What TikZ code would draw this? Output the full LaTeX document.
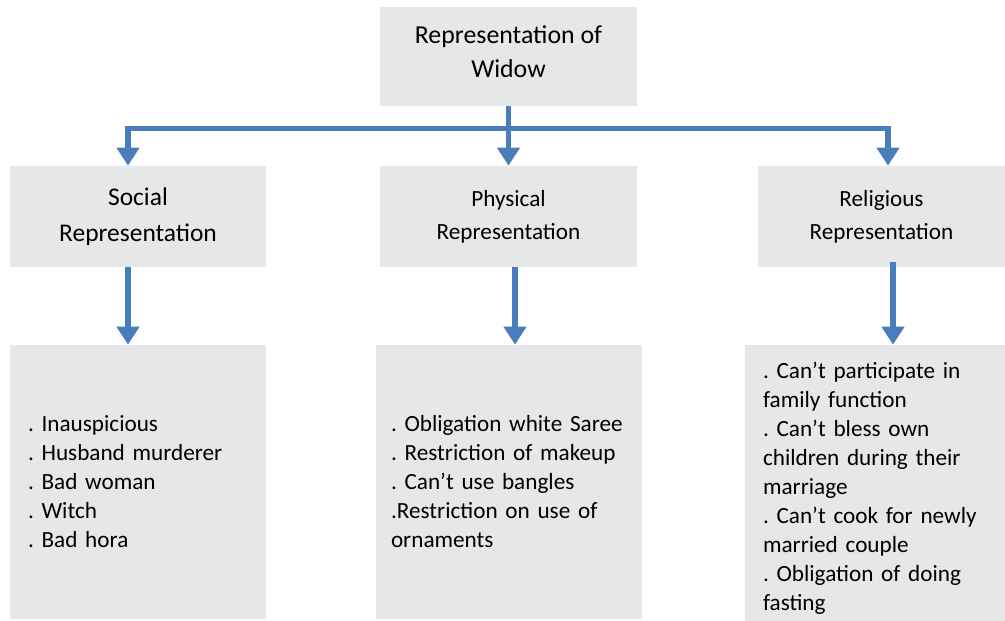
\documentclass[tikz,border=0pt]{standalone}
\usepackage{fontspec}
\setmainfont{Carlito}
\usetikzlibrary{arrows.meta}
\definecolor{boxgray}{RGB}{230,231,233}
\definecolor{linkblue}{RGB}{74,126,187}
\frenchspacing
\begin{document}
\begin{tikzpicture}[
    box/.style={fill=boxgray, draw=none, align=center, inner sep=0pt},
    listbox/.style={fill=boxgray, draw=none, align=left, inner xsep=0.36cm, inner ysep=0pt},
    link/.style={linkblue, line width=0.11cm, -{Triangle[width=0.44cm,length=0.36cm]}}
  ]
    \useasboundingbox (0,0) rectangle (20.1,-12.42);
    %Top
    \node[box, minimum width=5.14cm, minimum height=1.98cm,
          font=\fontsize{14.7}{19.4}\selectfont] (widow) at (10.17,-1.13) {Representation of\\Widow\rule[-0.2cm]{0pt}{0pt}};
    %Second row
    \node[box, minimum width=5.12cm, minimum height=2.02cm,
          font=\fontsize{14.5}{20.5}\selectfont] (social) at (2.76,-4.33) {Social\\Representation};
    \node[box, minimum width=5.14cm, minimum height=2.02cm,
          font=\fontsize{13.2}{18.8}\selectfont] (physical) at (10.17,-4.33) {Physical\\Representation};
    \node[box, minimum width=4.94cm, minimum height=2.02cm,
          font=\fontsize{13.2}{18.8}\selectfont] (religious) at (17.63,-4.33) {Religious\\Representation};
    %Lists
    \node[listbox, text width=4.4cm, minimum height=5.48cm,
          font=\fontsize{13.2}{16.5}\selectfont] (sociallist) at (2.76,-9.64)
          {. Inauspicious\\. Husband murderer\\. Bad woman\\. Witch\\. Bad hora};
    \node[listbox, inner xsep=0.3cm, text width=4.72cm, minimum height=5.48cm,
          font=\fontsize{13.2}{16.5}\selectfont] (physicallist) at (10.18,-9.64)
          {. Obligation white Saree\\. Restriction of makeup\\. Can’t use bangles\\.Restriction on use of\\ornaments};
    \node[listbox, text width=4.48cm, minimum height=5.52cm,
          font=\fontsize{13.2}{16.5}\selectfont] (religiouslist) at (17.5,-9.66)
          {\rule{0pt}{0.55cm}. Can’t participate in\\family function\\. Can’t bless own\\children during their\\marriage\\. Can’t cook for newly\\married couple\\. Obligation of doing\\fasting};
    %Top links
    \draw[link] (widow.south) -- (physical.north);
    \draw[link] (widow.south) ++(0,-0.44) -| ([xshift=-0.2cm]social.north);
    \draw[link] (widow.south) ++(0,-0.44) -| ([xshift=0.13cm]religious.north);
    %Down links
    \draw[link] ([xshift=-0.2cm]social.south) coordinate (s1) -- (s1 |- sociallist.north);
    \draw[link] ([xshift=0.13cm]physical.south) coordinate (p1) -- (p1 |- physicallist.north);
    \draw[link] ([xshift=0.23cm,yshift=0.1cm]religious.south) coordinate (r1) -- (r1 |- religiouslist.north);
\end{tikzpicture}
\end{document}
